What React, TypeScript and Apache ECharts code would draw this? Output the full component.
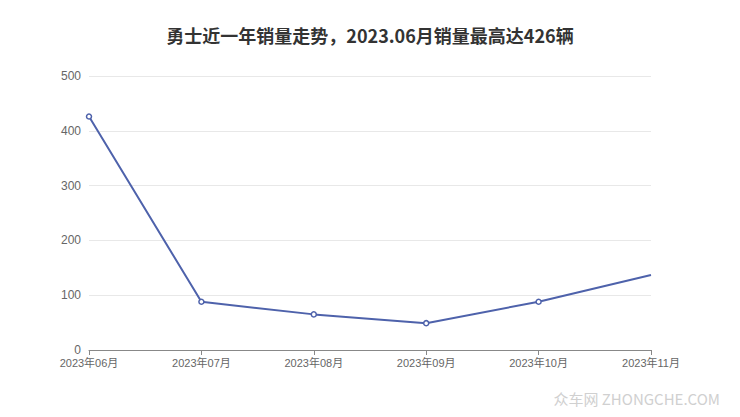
import React, { useEffect, useRef } from "react";
import * as echarts from "echarts";

const title = "勇士近一年销量走势，2023.06月销量最高达426辆";
const months = ["2023年06月", "2023年07月", "2023年08月", "2023年09月", "2023年10月", "2023年11月"];
const sales = [426, 88, 65, 49, 88, 137];
const watermark = "众车网 ZHONGCHE.COM";

export default function App() {
  const ref = useRef<HTMLDivElement>(null);
  useEffect(() => {
    const chart = echarts.init(ref.current!, undefined, { renderer: "svg" });
    chart.setOption({
      animation: false,
      backgroundColor: "#ffffff",
      title: {
        text: title,
        left: "center",
        top: 21,
        textStyle: {
          fontSize: 18,
          fontWeight: "bold",
          color: "#333333",
          fontFamily: "'Noto Sans CJK SC', sans-serif",
        },
      },
      graphic: [
        {
          type: "text",
          right: 20,
          bottom: 11,
          style: {
            text: watermark,
            fill: "#d0d0d0",
            fontSize: 15,
            fontFamily: "'Noto Sans CJK SC', sans-serif",
          },
        },
      ],
      grid: { left: 89, right: 89, top: 76, bottom: 67 },
      xAxis: {
        type: "category",
        data: months,
        boundaryGap: false,
        axisLine: { lineStyle: { color: "#888888" } },
        axisTick: { alignWithLabel: true, lineStyle: { color: "#888888" } },
        axisLabel: {
          color: "#666666",
          fontSize: 11,
          margin: 7,
          interval: 0,
          fontFamily: "'Liberation Sans', 'Noto Sans CJK SC', sans-serif",
        },
      },
      yAxis: {
        type: "value",
        min: 0,
        max: 500,
        interval: 100,
        axisLine: { show: false },
        axisTick: { show: false },
        axisLabel: { color: "#666666", fontSize: 12, margin: 8, fontFamily: "'Liberation Sans', sans-serif" },
        splitLine: { lineStyle: { color: "#e8e8e8" } },
      },
      series: [
        {
          type: "line",
          data: sales.map((v, i) => (i === sales.length - 1 ? { value: v, symbol: "none" } : v)),
          symbol: "circle",
          symbolSize: 5,
          lineStyle: { color: "#4e62ab", width: 2 },
          itemStyle: { color: "#ffffff", borderColor: "#4e62ab", borderWidth: 1.5 },
        },
      ],
    });
    return () => chart.dispose();
  }, []);
  return <div ref={ref} style={{ width: 740, height: 417, margin: -8 }} />;
}
